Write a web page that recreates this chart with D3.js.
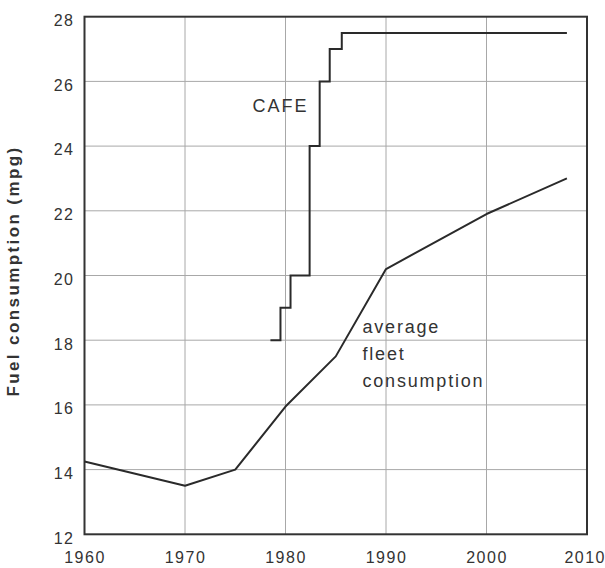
<!DOCTYPE html>
<html>
<head>
<meta charset="utf-8">
<script src="https://cdn.jsdelivr.net/npm/d3@7"></script>
<style>
  html, body { margin: 0; padding: 0; background: #fff; }
  svg { display: block; font-family: "Liberation Sans", Arial, Helvetica, sans-serif; }
</style>
</head>
<body>
<svg id="chart" width="605" height="568"></svg>
<script>
// Average fleet fuel economy (mpg) by year
const fleetYears = [1960, 1970, 1975, 1980, 1985, 1990, 2000, 2008];
const fleetMpg   = [14.25, 13.5, 14.0, 15.95, 17.5, 20.2, 21.9, 23.0];

// CAFE standard, drawn as a step function (each value holds until the next year)
const cafeYears = [1978.5, 1979.5, 1980.5, 1982.4, 1983.4, 1984.4, 1985.6, 2008];
const cafeMpg   = [18, 19, 20, 24, 26, 27, 27.5, 27.5];

// Axis ticks
const xTicks = [1960, 1970, 1980, 1990, 2000, 2010];
const yTicks = [12, 14, 16, 18, 20, 22, 24, 26, 28];

const svg = d3.select("#chart");
const margin = { left: 84.5, right: 18, top: 16.7, bottom: 33.7 };
const W = 605, H = 568;

const x = d3.scaleLinear().domain([1960, 2010]).range([margin.left, W - margin.right]);
const y = d3.scaleLinear().domain([12, 28]).range([H - margin.bottom, margin.top]);

// grid lines
const grid = svg.append("g").attr("stroke", "#a8a8a8").attr("stroke-width", 1);
grid.selectAll("line.v").data(xTicks.slice(1, -1)).join("line")
  .attr("x1", d => x(d)).attr("x2", d => x(d))
  .attr("y1", y(12)).attr("y2", y(28));
grid.selectAll("line.h").data(yTicks.slice(1, -1)).join("line")
  .attr("x1", x(1960)).attr("x2", x(2010))
  .attr("y1", d => y(d)).attr("y2", d => y(d));

// plot frame
svg.append("rect")
  .attr("x", x(1960)).attr("y", y(28))
  .attr("width", x(2010) - x(1960)).attr("height", y(12) - y(28))
  .attr("fill", "none").attr("stroke", "#333").attr("stroke-width", 2);

// axes (labels only; frame drawn above)
const xAxis = svg.append("g")
  .attr("transform", `translate(0,${y(12)})`)
  .call(d3.axisBottom(x).tickValues(xTicks).tickFormat(d3.format("d")).tickSize(0).tickPadding(17));
xAxis.select(".domain").remove();
xAxis.selectAll("text")
  .attr("font-size", 16).attr("letter-spacing", "1.5px").attr("fill", "#333")
  .attr("font-family", "'Liberation Sans', Arial, sans-serif");
// keep the last year label inside the page edge
xAxis.selectAll(".tick").filter(d => d === 2010).select("text")
  .attr("text-anchor", "end").attr("x", W - 1 - x(2010) + 1.5);

const yAxis = svg.append("g")
  .attr("transform", `translate(${x(1960)},0)`)
  .call(d3.axisLeft(y).tickValues(yTicks).tickSize(0).tickPadding(10));
yAxis.select(".domain").remove();
yAxis.selectAll("text")
  .attr("font-size", 16).attr("letter-spacing", "1.5px").attr("fill", "#333")
  .attr("dy", "0.55em")
  .attr("font-family", "'Liberation Sans', Arial, sans-serif");

// y axis title
svg.append("text")
  .attr("transform", `translate(19,${271}) rotate(-90)`)
  .attr("text-anchor", "middle")
  .attr("font-size", 17).attr("font-weight", "bold")
  .attr("letter-spacing", "2.4px").attr("fill", "#333")
  .text("Fuel consumption (mpg)");

// series
const fleetLine = d3.line().x(d => x(d[0])).y(d => y(d[1]));
svg.append("path")
  .datum(fleetYears.map((yr, i) => [yr, fleetMpg[i]]))
  .attr("d", fleetLine)
  .attr("fill", "none").attr("stroke", "#2a2a2a").attr("stroke-width", 2)
  .attr("stroke-linejoin", "round");

const cafeLine = d3.line().x(d => x(d[0])).y(d => y(d[1])).curve(d3.curveStepAfter);
svg.append("path")
  .datum(cafeYears.map((yr, i) => [yr, cafeMpg[i]]))
  .attr("d", cafeLine)
  .attr("fill", "none").attr("stroke", "#2a2a2a").attr("stroke-width", 2);

// series labels
svg.append("text")
  .attr("x", 252.5).attr("y", 111.5)
  .attr("font-size", 18).attr("letter-spacing", "2px").attr("fill", "#333")
  .text("CAFE");

const lbl = svg.append("text")
  .attr("x", 362.5).attr("y", 333)
  .attr("font-size", 18).attr("letter-spacing", "1.8px").attr("fill", "#333");
["average", "fleet", "consumption"].forEach((t, i) => {
  lbl.append("tspan").attr("x", 362.5).attr("dy", i === 0 ? 0 : 27).text(t);
});
</script>
</body>
</html>
